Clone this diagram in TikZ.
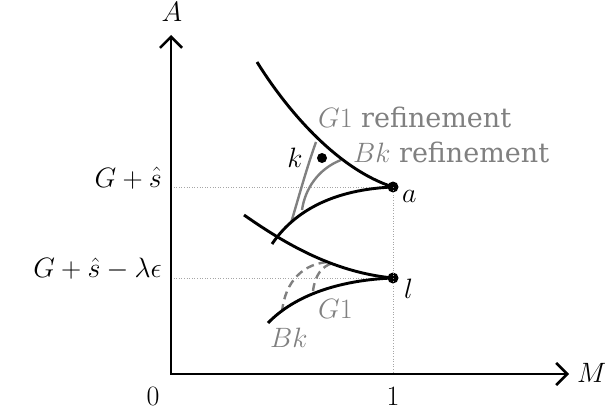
\documentclass[tikz,border=0pt]{standalone}
\usepackage{fix-cm}
\usepackage{fontspec}
\newfontfamily\refserif{DejaVu Serif}
\usetikzlibrary{arrows.meta}
\definecolor{refgray}{RGB}{128,128,128}
\begin{document}
\begin{tikzpicture}[x=1pt,y=-1pt,
  lbl/.style={font=\fontsize{28}{32}\selectfont, inner sep=0pt},
  glbl/.style={lbl, text=refgray},
  axis/.style={line width=2.6pt, line join=miter},
  curve/.style={line width=2.9pt},
  gcurve/.style={line width=2.4pt, draw=refgray},
  dcurve/.style={gcurve, dash pattern=on 8pt off 5pt},
  guide/.style={line width=0.6pt, draw=gray!70, dotted},
  dot/.style={circle, fill=black, inner sep=0pt, minimum size=11pt}]
\useasboundingbox (0,0) rectangle (605,412);

\coordinate (O) at (171,374);
\coordinate (Ytip) at (171,35);
\coordinate (Xtip) at (569,374);
\node[dot] (a) at (393,187) {};
\node[dot] (l) at (393,278) {};
\coordinate (ya) at (171,187);
\coordinate (yl) at (171,278);
\coordinate (xa) at (393,374);

% guides
\draw[guide] (ya) -- (a.center);
\draw[guide] (yl) -- (l.center);
\draw[guide] (a.center) -- (xa);

% axes
\draw[axis, {Straight Barb[length=11pt,width=22pt]}-{Straight Barb[length=11pt,width=22pt]}] (Ytip) -- (O) -- (Xtip);

% gray refinement curves
\coordinate (g1s) at (291,223); \coordinate (g1e) at (316,142);
\coordinate (bks) at (302,210); \coordinate (bke) at (341,160);
\draw[gcurve] (g1s) .. controls (299,196) and (307,167) .. (g1e);
\draw[gcurve] (bks) .. controls (305,189) and (318,169) .. (bke);
\coordinate (d1s) at (282,312); \coordinate (d1e) at (329,262);
\coordinate (d2s) at (313,291); \coordinate (d2e) at (333,263);
\draw[dcurve] (d1s) .. controls (285,280) and (305,263) .. (d1e);
\draw[dcurve] (d2s) .. controls (315,275) and (322,266) .. (d2e);

% black curves
\coordinate (u0) at (257,62);
\coordinate (v0) at (272,244);
\coordinate (w0) at (244,215);
\coordinate (z0) at (268,323);
\draw[curve] (u0) .. controls (290,115) and (340,170) .. (a.center);
\draw[curve] (v0) .. controls (299,204) and (345,189) .. (a.center);
\draw[curve] (w0) .. controls (280,240) and (330,272) .. (l.center);
\draw[curve] (z0) .. controls (295,295) and (340,280) .. (l.center);

\node[dot, minimum size=10pt] (k) at (322,158) {};

% labels
\node[lbl, anchor=base] (lA) at (172,22) {$A$};
\node[lbl, anchor=base west] (lM) at (577,382) {$M$};
\node[lbl, anchor=base] (l0) at (153,405) {$0$};
\node[lbl, anchor=base] (l1) at (393,405) {$1$};
\node[lbl, anchor=base east] (lGs) at (162,187) {$G+\hat{s}$};
\node[lbl, anchor=base east] (lGsl) at (162,277) {$G+\hat{s}-\lambda\epsilon$};
\node[lbl, anchor=base west] (la) at (402,202) {$a$};
\node[lbl, anchor=base west] (ll) at (404,298) {$l$};
\node[lbl, anchor=base] (lk) at (295,167) {$k$};
\node[glbl, anchor=base west] (lG1r) at (318,127) {$G1$ {\fontsize{27}{32}\refserif refinement}};
\node[glbl, anchor=base west] (lBkr) at (353,162) {$Bk$ {\fontsize{27}{32}\refserif refinement}};
\node[glbl, anchor=base west] (lG1) at (318,318) {$G1$};
\node[glbl, anchor=base west] (lBk) at (270,347) {$Bk$};
\end{tikzpicture}
\end{document}
